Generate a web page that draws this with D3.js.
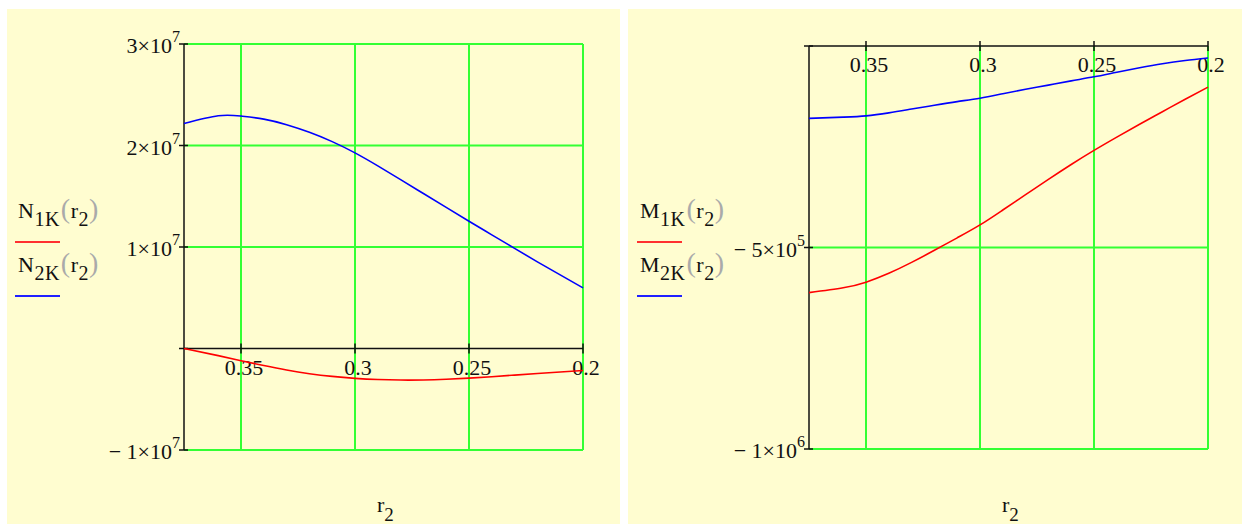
<!DOCTYPE html>
<html>
<head>
<meta charset="utf-8">
<script src="https://d3js.org/d3.v7.min.js"></script>
<style>
body, html {
    margin: 0;
    padding: 0;
    background: #fff;
}
svg text {
    font-family: "Liberation Serif", "DejaVu Serif", serif;
    fill: #111;
}
</style>
</head>
<body>
<div id="chart"></div>
<script>

// r2 values (x axis)
var r2 = [0.375, 0.36, 0.35, 0.34, 0.33, 0.32, 0.31, 0.30, 0.29, 0.28, 0.27, 0.26, 0.25, 0.24, 0.23, 0.22, 0.21, 0.20];

// left plot
var N1K = [0, -700000, -1200000, -1680000, -2120000, -2480000, -2750000, -2940000, -3060000, -3110000,
           -3100000, -3030000, -2920000, -2780000, -2620000, -2460000, -2310000, -2170000];
var N2K = [22170000, 22930000, 22900000, 22600000, 22050000, 21300000, 20380000, 19270000, 17990000, 16640000,
           15270000, 13900000, 12540000, 11200000, 9860000, 8540000, 7250000, 5970000];

// right plot
var M1K = [-612000, -600000, -586000, -564000, -537000, -507000, -476000, -444000, -407000, -369000,
           -331000, -294000, -259000, -226000, -194000, -163000, -132000, -102000];
var M2K = [-179500, -176500, -173500, -166000, -156500, -147000, -138000, -129500, -118500, -107500,
           -97000, -86500, -76500, -65000, -54000, -44000, -36000, -29800];

var xTicks = [0.35, 0.3, 0.25, 0.2];
var xTickLabels = ["0.35", "0.3", "0.25", "0.2"];

var nTicks = [30000000, 20000000, 10000000, 0, -10000000];
var nTickLabels = [["3×10", "7"], ["2×10", "7"], ["1×10", "7"], null, ["− 1×10", "7"]];
var mTicks = [0, -500000, -1000000];
var mTickLabels = [null, ["− 5×10", "5"], ["− 1×10", "6"]];

var width = 1242, height = 524;
var gridColor = "#33ff33";

var svg = d3.select("#chart").append("svg")
    .attr("width", width)
    .attr("height", height);

// panel backgrounds
svg.append("rect").attr("x", 7).attr("y", 9).attr("width", 613).attr("height", 515).attr("fill", "#fffdd0");
svg.append("rect").attr("x", 628).attr("y", 9).attr("width", 614).attr("height", 515).attr("fill", "#fffdd0");

function drawPanel(p) {
    var g = svg.append("g");
    var x = d3.scaleLinear().domain([0.375, 0.2]).range([p.left, p.right]);
    var y = d3.scaleLinear().domain(p.yDomain).range([p.bottom, p.top]);
    var x0 = x(0.375), y0 = y(0);

    // grid
    g.selectAll("line.hgrid")
        .data(p.yTicks.filter(function(d) { return d !== 0; }))
        .enter().append("line")
        .attr("x1", x0).attr("x2", x(0.2))
        .attr("y1", function(d) { return y(d); })
        .attr("y2", function(d) { return y(d); })
        .attr("stroke", gridColor).attr("stroke-width", 2);
    g.selectAll("line.vgrid")
        .data(xTicks)
        .enter().append("line")
        .attr("x1", function(d) { return x(d); })
        .attr("x2", function(d) { return x(d); })
        .attr("y1", y(p.yDomain[1])).attr("y2", y(p.yDomain[0]))
        .attr("stroke", gridColor).attr("stroke-width", 2);

    // axes
    g.append("line").attr("x1", x0).attr("x2", x0)
        .attr("y1", y(p.yDomain[1])).attr("y2", y(p.yDomain[0]))
        .attr("stroke", "#111").attr("stroke-width", 1.5);
    g.append("line").attr("x1", x0).attr("x2", x(0.2))
        .attr("y1", y0).attr("y2", y0)
        .attr("stroke", "#111").attr("stroke-width", 1.5);
    g.selectAll("line.ytick")
        .data(p.yTicks)
        .enter().append("line")
        .attr("x1", x0 - 5).attr("x2", x0 + 4)
        .attr("y1", function(d) { return y(d); })
        .attr("y2", function(d) { return y(d); })
        .attr("stroke", "#111").attr("stroke-width", 1.5);
    g.selectAll("line.xtick")
        .data(xTicks)
        .enter().append("line")
        .attr("x1", function(d) { return x(d); })
        .attr("x2", function(d) { return x(d); })
        .attr("y1", y0 - 5).attr("y2", y0 + 5)
        .attr("stroke", "#111").attr("stroke-width", 1.5);

    // x tick labels
    g.selectAll("text.xl")
        .data(xTicks)
        .enter().append("text")
        .attr("x", function(d) { return x(d) + 3; })
        .attr("y", y0 + 26)
        .attr("text-anchor", "middle")
        .style("font-size", "22px")
        .text(function(d, i) { return xTickLabels[i]; });

    // y tick labels with superscript
    p.yTicks.forEach(function(d, i) {
        var lab = p.yTickLabels[i];
        if (!lab) return;
        var t = g.append("text")
            .attr("x", x0 - 4)
            .attr("y", y(d) + 9)
            .attr("text-anchor", "end")
            .style("font-size", "22px");
        t.append("tspan").text(lab[0]);
        t.append("tspan").attr("dy", -11).style("font-size", "16px").text(lab[1]);
    });

    // curves
    var line = d3.line()
        .x(function(d, i) { return x(r2[i]); })
        .y(function(d) { return y(d); })
        .curve(d3.curveNatural);
    g.append("path").datum(p.s1).attr("d", line)
        .attr("fill", "none").attr("stroke", "#ff0000").attr("stroke-width", 1.6);
    g.append("path").datum(p.s2).attr("d", line)
        .attr("fill", "none").attr("stroke", "#0000ff").attr("stroke-width", 1.6);

    // legend
    [[p.name1, 218, "#ff3030", 242], [p.name2, 272, "#2020ff", 296]].forEach(function(l) {
        var t = g.append("text").attr("x", p.legX).attr("y", l[1])
            .style("font-size", "22px").style("letter-spacing", "0.5px");
        t.append("tspan").text(p.letter);
        t.append("tspan").attr("dy", 8).style("font-size", "20px").text(l[0]);
        t.append("tspan").attr("dy", -8).attr("dx", 1).style("font-size", "28px").style("fill", "#aaa").text("(");
        t.append("tspan").text("r");
        t.append("tspan").attr("dy", 8).style("font-size", "20px").text("2");
        t.append("tspan").attr("dy", -8).style("font-size", "28px").style("fill", "#aaa").text(")");
        g.append("line").attr("x1", p.legX - 3).attr("x2", p.legX + 42)
            .attr("y1", l[3]).attr("y2", l[3])
            .attr("stroke", l[2]).attr("stroke-width", 2);
    });

    // x axis title
    var xt = g.append("text").attr("x", p.titleX).attr("y", 512).style("font-size", "22px");
    xt.append("tspan").text("r");
    xt.append("tspan").attr("dy", 9).style("font-size", "19px").text("2");
}

drawPanel({
    left: 184, right: 583, top: 44, bottom: 450,
    yDomain: [-10000000, 30000000],
    yTicks: nTicks, yTickLabels: nTickLabels,
    s1: N1K, s2: N2K,
    letter: "N", name1: "1K", name2: "2K",
    legX: 18, titleX: 377
});

drawPanel({
    left: 809, right: 1208, top: 46, bottom: 449,
    yDomain: [-1000000, 0],
    yTicks: mTicks, yTickLabels: mTickLabels,
    s1: M1K, s2: M2K,
    letter: "M", name1: "1K", name2: "2K",
    legX: 640, titleX: 1002
});

</script>
</body>
</html>
